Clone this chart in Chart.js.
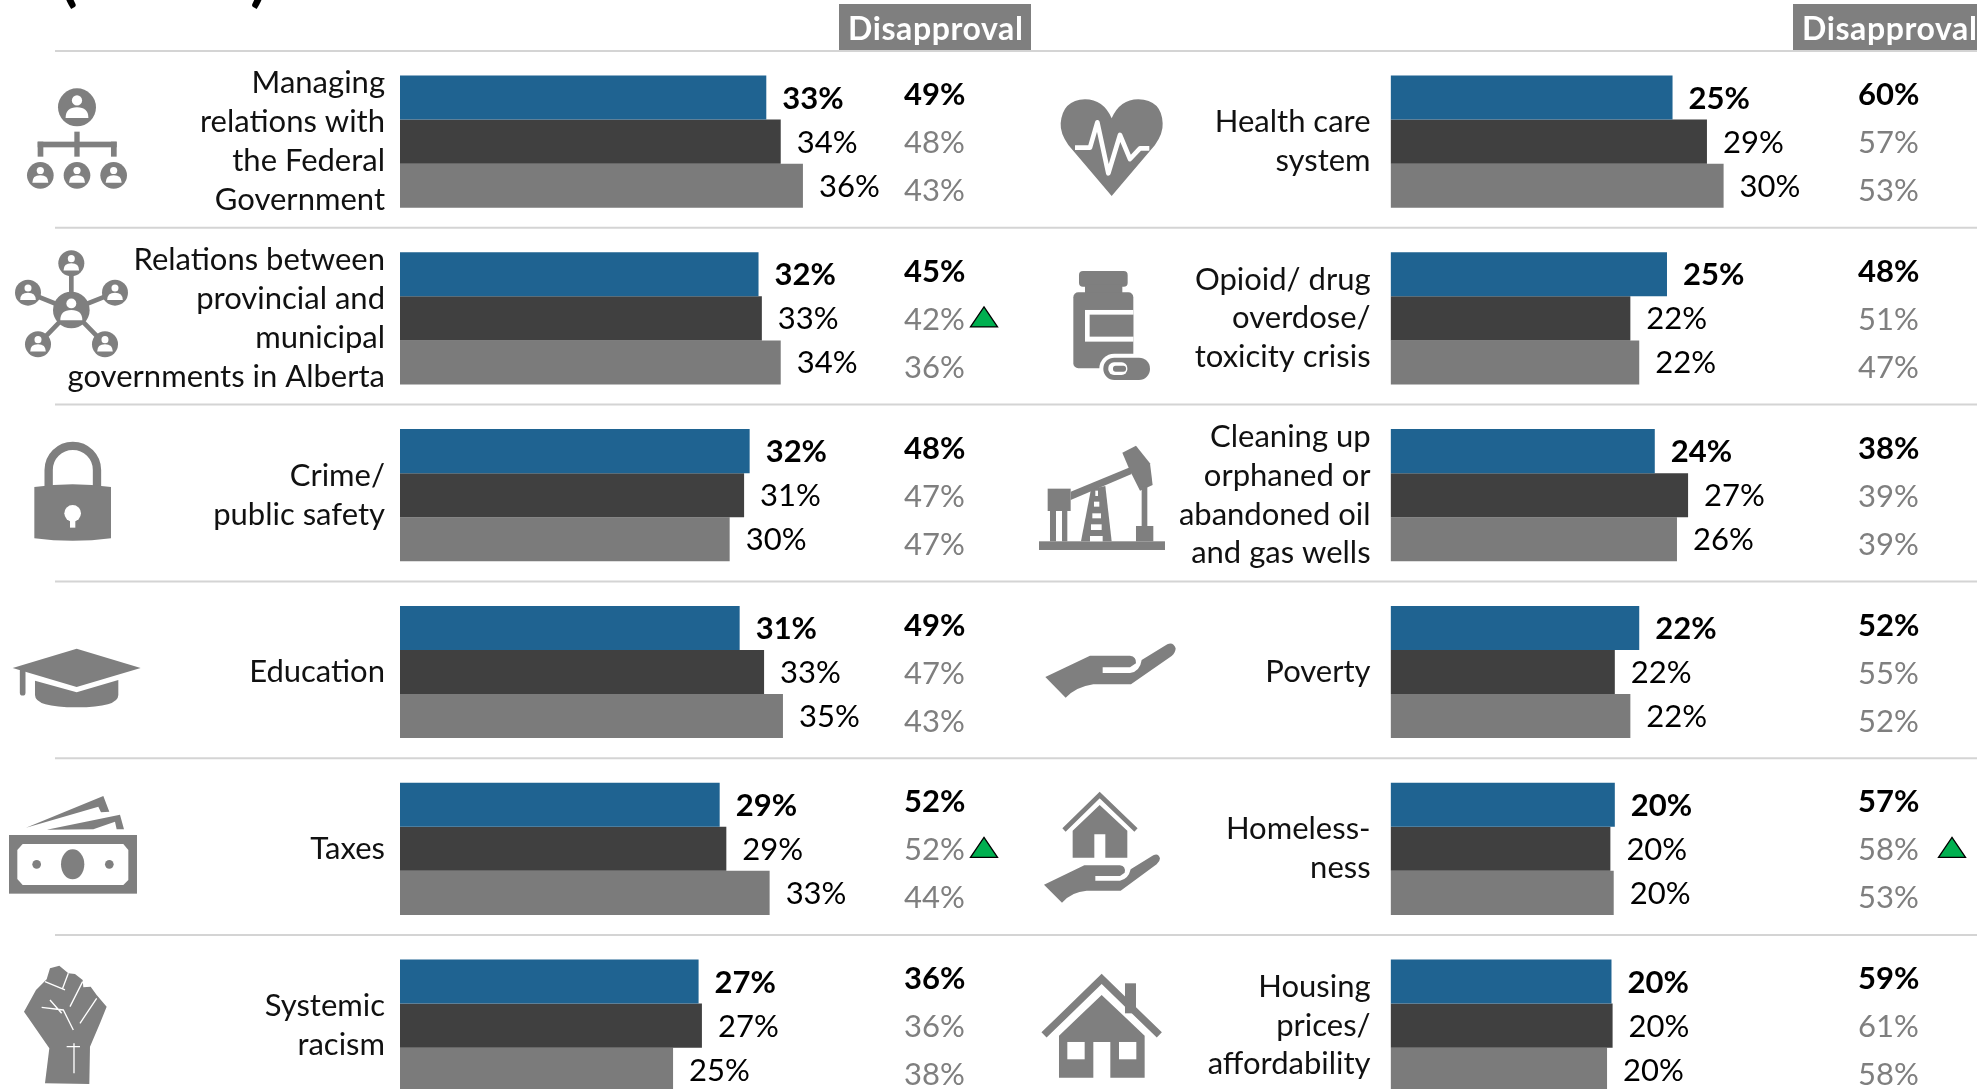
<!DOCTYPE html>
<html>
<head>
<meta charset="utf-8">
<title>Government performance</title>
<script src="https://cdn.jsdelivr.net/npm/chart.js@4"></script>
<style>
  html, body { margin: 0; padding: 0; background: #fff; width: 1977px; height: 1089px; overflow: hidden; }
  canvas { position: absolute; top: 0; }
  #leftChart { left: 0; }
  #rightChart { left: 1031px; }
  svg { position: absolute; left: 0; top: 0; pointer-events: none; }
</style>
</head>
<body>
<canvas id="leftChart" width="1031" height="1114"></canvas>
<canvas id="rightChart" width="946" height="1114"></canvas>

<svg width="1977" height="1089" fill="#7f7f7f">
  <defs>
    <g id="person">
      <circle r="1"/>
      <circle cy="-0.36" r="0.27" fill="#fff"/>
      <path d="M-.6 .56 Q-.6 0 0 0 Q.6 0 .6 .56 Z" fill="#fff"/>
    </g>
  </defs>

  <!-- icons, each in the 3x pixels of its own crop -->
  <g transform="translate(0,70) scale(.3333)">
    <rect x="223" y="185" width="16" height="75"/>
    <rect x="113" y="215" width="237" height="17"/>
    <rect x="113" y="215" width="17" height="45"/>
    <rect x="333" y="215" width="17" height="45"/>
    <use href="#person" transform="translate(231,112) scale(57)"/>
    <use href="#person" transform="translate(121,316) scale(40)"/>
    <use href="#person" transform="translate(231,316) scale(40)"/>
    <use href="#person" transform="translate(341,316) scale(40)"/>
    <g stroke="#7f7f7f" stroke-width="14">
      <path d="M214 720 L214 580 M214 720 L84 668 M214 720 L345 668 M214 720 L114 823 M214 720 L315 823"/>
    </g>
    <use href="#person" transform="translate(214,720) scale(55)"/>
    <use href="#person" transform="translate(214,580) scale(39)"/>
    <use href="#person" transform="translate(84,668) scale(39)"/>
    <use href="#person" transform="translate(345,668) scale(39)"/>
    <use href="#person" transform="translate(114,823) scale(39)"/>
    <use href="#person" transform="translate(315,823) scale(39)"/>
  </g>

  <g transform="translate(0,430) scale(.3333)">
    <path d="M146 175 V120 A72.5 72.5 0 0 1 291 120 V175" fill="none" stroke="#7f7f7f" stroke-width="25"/>
    <path d="M103 171 Q218 155 333 171 V325 Q218 340 103 325 Z"/>
    <circle cx="218" cy="250" r="25" fill="#fff"/>
    <rect x="210" y="255" width="16" height="38" fill="#fff"/>
    <path d="M230 656 L422 714 L230 771 L38 714 Z"/>
    <path d="M68 722 V788" fill="none" stroke="#7f7f7f" stroke-width="17" stroke-linecap="round"/>
    <path d="M105 752 L230 787 L355 750 V795 Q355 832 230 832 Q105 832 105 795 Z"/>
  </g>

  <g transform="translate(0,780) scale(.3333)">
    <path d="M78 143 L310 48 L328 95 L303 97 L295 80 Z"/>
    <path d="M140 149 L360 104 L372 148 L350 148 L345 125 L280 148 Z"/>
    <rect x="27" y="165" width="384" height="176"/>
    <path d="M68 192 H370 L385 210 V300 L370 315 H68 L52 297 V210 Z" fill="#fff"/>
    <ellipse cx="218" cy="253" rx="35" ry="45"/>
    <circle cx="110" cy="253" r="13"/>
    <circle cx="328" cy="253" r="13"/>
    <path d="M135 910 L148 805 L72 695 L108 630 L140 598 L150 565 L178 557 L205 580 L225 582 L248 600 L250 622 L272 620 L290 645 L320 680 L300 730 L270 800 L268 912 Z"/>
    <path d="M135 605 L195 630 M205 580 L188 625 M248 605 L210 680 M290 655 L240 730 M125 682 L190 690 L220 750 M150 660 L185 700 M200 800 H240 M222 790 V880" fill="none" stroke="#fff" stroke-width="4"/>
  </g>

  <g transform="translate(1040,85) scale(.3333)">
    <path d="M215 333 L85 180 Q60 145 62 115 Q68 45 135 43 Q190 43 215 100 Q240 43 295 43 Q365 45 368 115 Q370 145 345 180 Z"/>
    <path d="M105 188 H150 L172 112 L205 265 L240 150 L270 222 L300 190 H328" fill="none" stroke="#fff" stroke-width="14" stroke-linejoin="round"/>
    <rect x="117" y="558" width="146" height="47" rx="12"/>
    <rect x="135" y="600" width="112" height="28"/>
    <rect x="100" y="622" width="180" height="228" rx="15"/>
    <rect x="135" y="675" width="145" height="95" fill="#fff"/>
    <rect x="149" y="689" width="131" height="66"/>
    <rect x="178" y="806" width="164" height="91" rx="45" fill="#fff"/>
    <rect x="190" y="818" width="140" height="67" rx="33"/>
    <rect x="205" y="832" width="57" height="38" rx="17" fill="#fff"/>
    <rect x="219" y="842" width="39" height="18" rx="8"/>
  </g>

  <g transform="translate(1030,430) scale(.3333)">
    <rect x="27" y="334" width="378" height="26"/>
    <path d="M122 185 L300 112 L305 132 L122 210 Z"/>
    <path d="M277 68 L318 47 L360 100 L368 165 L330 182 L300 122 Z"/>
    <rect x="53" y="176" width="69" height="67"/>
    <rect x="60" y="243" width="18" height="91"/>
    <rect x="96" y="243" width="16" height="91"/>
    <path d="M153 334 L183 178 L226 168 L245 334 Z"/>
    <g fill="#fff">
      <rect x="196" y="182" width="8" height="16"/>
      <rect x="192" y="215" width="16" height="15"/>
      <rect x="187" y="250" width="26" height="15"/>
      <rect x="183" y="283" width="32" height="17"/>
      <rect x="180" y="318" width="38" height="16"/>
    </g>
    <rect x="335" y="170" width="17" height="120"/>
    <rect x="318" y="288" width="52" height="46"/>
    <path d="M46 741 L180 677 H300 Q320 680 318 700 L300 712 H218 V729 H300 Q330 725 335 690 L412 643 Q430 635 437 655 Q437 668 425 678 L303 763 H190 Q140 770 107 803 Z"/>
  </g>

  <g transform="translate(1030,780) scale(.3333)">
    <path d="M102 150 L209 45 L318 150" fill="none" stroke="#7f7f7f" stroke-width="14"/>
    <path d="M128 152 L209 75 L292 152 V233 H226 V163 H193 V233 H128 Z"/>
    <path d="M42 314 L163 256 H270 Q288 258 284 278 L270 288 H196 V302 H270 Q295 298 302 268 L370 226 Q385 218 390 235 Q390 245 380 253 L272 332 H170 Q125 335 96 368 Z"/>
    <rect x="285" y="610" width="33" height="90"/>
    <path d="M42 765 L215 597 L388 765" fill="none" stroke="#7f7f7f" stroke-width="22"/>
    <path d="M87 767 L215 645 L344 767 V893 H241 V786 H190 V893 H87 Z"/>
    <rect x="112" y="786" width="52" height="52" fill="#fff"/>
    <rect x="267" y="786" width="52" height="52" fill="#fff"/>
  </g>
</svg>

<script>
// left panel
var leftCategories = [
  ['Managing', 'relations with', 'the Federal', 'Government'],
  ['Relations between', 'provincial and', 'municipal', 'governments in Alberta'],
  ['Crime/', 'public safety'],
  'Education',
  'Taxes',
  ['Systemic', 'racism']
];
// bar lengths
var leftBlue = [33.0, 32.3, 31.5, 30.6, 28.8, 26.9];
var leftDark = [34.3, 32.6, 31.0, 32.8, 29.4, 27.2];
var leftGrey = [36.3, 34.3, 29.7, 34.5, 33.3, 24.6];
// printed labels
var leftBlueLabels = [33, 32, 32, 31, 29, 27];
var leftDarkLabels = [34, 33, 31, 33, 29, 27];
var leftGreyLabels = [36, 34, 30, 35, 33, 25];
var leftDisapproveBlue = [49, 45, 48, 49, 52, 36];
var leftDisapproveDark = [48, 42, 47, 47, 52, 36];
var leftDisapproveGrey = [43, 36, 47, 43, 44, 38];
var leftUpRows = [1, 4];

// right panel
var rightCategories = [
  ['Health care', 'system'],
  ['Opioid/ drug', 'overdose/', 'toxicity crisis'],
  ['Cleaning up', 'orphaned or', 'abandoned oil', 'and gas wells'],
  'Poverty',
  ['Homeless-', 'ness'],
  ['Housing', 'prices/', 'affordability']
];
var rightBlue = [25.4, 24.9, 23.8, 22.4, 20.2, 19.9];
var rightDark = [28.5, 21.6, 26.8, 20.2, 19.8, 20.0];
var rightGrey = [30.0, 22.4, 25.8, 21.6, 20.1, 19.5];
var rightBlueLabels = [25, 25, 24, 22, 20, 20];
var rightDarkLabels = [29, 22, 27, 22, 20, 20];
var rightGreyLabels = [30, 22, 26, 22, 20, 20];
var rightDisapproveBlue = [60, 48, 38, 52, 57, 59];
var rightDisapproveDark = [57, 51, 39, 55, 58, 61];
var rightDisapproveGrey = [53, 47, 39, 52, 53, 58];
var rightUpRows = [4];

var FONT = 'Lato';
var GREY_TEXT = '#7f7f7f';

// everything that is not a bar or an axis label
function panelPlugin(p) {
  return {
    id: 'panel',
    beforeDatasetsDraw: function (chart) {
      var c = chart.ctx, y = chart.scales.y;
      var step = y.getPixelForValue(1) - y.getPixelForValue(0);
      c.save();
      c.strokeStyle = '#d4d4d4';
      c.lineWidth = 2;
      for (var i = 0; i < 6; i++) {
        var ry = y.getPixelForValue(i) - step / 2 - 2.2;
        c.beginPath();
        c.moveTo(p.ruleFrom, ry);
        c.lineTo(chart.width, ry);
        c.stroke();
      }
      c.restore();
    },
    afterDatasetsDraw: function (chart) {
      var c = chart.ctx, y = chart.scales.y;
      c.save();
      c.textBaseline = 'middle';
      c.textAlign = 'left';

      // value at the end of each bar
      [p.blueLabels, p.darkLabels, p.greyLabels].forEach(function (labels, d) {
        var meta = chart.getDatasetMeta(d);
        c.font = (d == 0 ? 'bold ' : '') + '31px ' + FONT;
        c.fillStyle = '#000';
        labels.forEach(function (v, i) {
          c.fillText(v + '%', meta.data[i].x + 16, meta.data[i].y + 1);
        });
      });

      // disapproval column
      for (var i = 0; i < 6; i++) {
        var cy = y.getPixelForValue(i);
        c.font = 'bold 31px ' + FONT;
        c.fillStyle = '#000';
        c.fillText(p.disBlue[i] + '%', p.disX, cy - 46.5);
        c.font = '31px ' + FONT;
        c.fillStyle = GREY_TEXT;
        c.fillText(p.disDark[i] + '%', p.disX, cy + 1.5);
        c.fillText(p.disGrey[i] + '%', p.disX, cy + 49.5);
      }

      // green up markers
      p.upRows.forEach(function (r) {
        var my = y.getPixelForValue(r);
        c.beginPath();
        c.moveTo(p.upX, my - 11.5);
        c.lineTo(p.upX + 13.5, my + 8.5);
        c.lineTo(p.upX - 13.5, my + 8.5);
        c.closePath();
        c.fillStyle = '#00b050';
        c.fill();
        c.strokeStyle = '#000';
        c.lineWidth = 1.3;
        c.stroke();
      });

      // header box
      c.fillStyle = '#7f7f7f';
      c.fillRect(p.boxX, 4, p.boxW, 46);
      c.fillStyle = '#fff';
      c.font = 'bold 32px ' + FONT;
      c.letterSpacing = '0.6px';
      c.fillText('Disapproval', p.boxX + 9, 30);
      c.letterSpacing = '0px';

      if (p.title) {
        c.fillStyle = '#000';
        c.font = 'bold 64px ' + FONT;
        c.textBaseline = 'alphabetic';
        c.fillText(p.title, 60, -1);
      }
      c.restore();
    }
  };
}

function makeChart(id, p) {
  return new Chart(document.getElementById(id), {
    type: 'bar',
    data: {
      labels: p.categories,
      datasets: [
        { data: p.blue, backgroundColor: '#1f6391' },
        { data: p.dark, backgroundColor: '#404040' },
        { data: p.grey, backgroundColor: '#7b7b7b' }
      ]
    },
    options: {
      indexAxis: 'y',
      responsive: false,
      animation: false,
      barPercentage: 1,
      categoryPercentage: 0.7477,
      layout: { padding: { top: 53.2, bottom: 0, left: 0, right: p.padRight } },
      plugins: { legend: { display: false }, tooltip: { enabled: false } },
      scales: {
        x: { display: false, min: 0, max: 48 },
        y: {
          // fixed gutter, and no room reserved for the tall first and last labels
          afterFit: function (scale) {
            scale.width = p.axisWidth;
            scale.paddingTop = 0;
            scale.paddingBottom = 0;
          },
          border: { display: false },
          grid: { display: false, drawTicks: false },
          ticks: {
            autoSkip: false,
            padding: p.tickPad,
            color: '#111',
            font: { family: FONT, size: 31, lineHeight: 1.25 }
          }
        }
      }
    },
    plugins: [panelPlugin(p)]
  });
}

makeChart('leftChart', {
  categories: leftCategories, blue: leftBlue, dark: leftDark, grey: leftGrey,
  blueLabels: leftBlueLabels, darkLabels: leftDarkLabels, greyLabels: leftGreyLabels,
  disBlue: leftDisapproveBlue, disDark: leftDisapproveDark, disGrey: leftDisapproveGrey,
  upRows: leftUpRows, upX: 984, disX: 904, boxX: 839, boxW: 192,
  axisWidth: 400, padRight: 98.2, tickPad: 15, ruleFrom: 55, title: "(cont'd)"
});

makeChart('rightChart', {
  categories: rightCategories, blue: rightBlue, dark: rightDark, grey: rightGrey,
  blueLabels: rightBlueLabels, darkLabels: rightDarkLabels, greyLabels: rightGreyLabels,
  disBlue: rightDisapproveBlue, disDark: rightDisapproveDark, disGrey: rightDisapproveGrey,
  upRows: rightUpRows, upX: 921, disX: 827, boxX: 762, boxW: 184,
  axisWidth: 359.6, padRight: 53.6, tickPad: 20, ruleFrom: 0
});
</script>
</body>
</html>
